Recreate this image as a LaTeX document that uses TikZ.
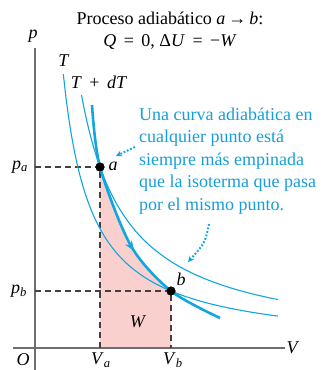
\documentclass[tikz,border=0pt]{standalone}
\usepackage{fontspec}
\setmainfont{Liberation Serif}
\usetikzlibrary{arrows.meta,decorations.markings}
\definecolor{cy}{RGB}{18,166,224}
\definecolor{cytext}{RGB}{22,158,216}
\definecolor{pinkfill}{RGB}{250,208,207}
\definecolor{axisgray}{RGB}{110,110,110}
\definecolor{dashgray}{RGB}{65,65,65}
\tikzset{
  axisline/.style={draw=axisgray, line width=1.5pt},
  guide/.style={draw=dashgray, line width=1.2pt, dash pattern=on 6pt off 4pt},
  isotherm/.style={draw=cy, line width=1.1pt},
  adiabat/.style={draw=cy, line width=2.6pt},
  dotarrow/.style={draw=cy, line width=2pt, dash pattern=on 1.8pt off 1.8pt, -{Stealth[length=6pt,width=6pt]}},
  dot/.style={circle, fill=black, inner sep=0pt, minimum size=9pt},
  lbl/.style={inner sep=0pt, font=\fontsize{18}{21}\selectfont},
}
\begin{document}
\begin{tikzpicture}[x=1pt,y=-1pt]
\useasboundingbox (0,0) rectangle (324,370);
% fill under adiabatic
\begin{scope}
  \clip (100,0) rectangle (171,348);
  \fill[pinkfill] plot[smooth] coordinates {(92,105) (100,167) (131,246) (171,291) (220,318)} -- (220,348) -- (92,348) -- cycle;
\end{scope}
% axes
\coordinate (ytop) at (35,48);
\coordinate (ybot) at (35,370);
\coordinate (xl) at (13,348);
\coordinate (xr) at (285,348);
\draw[axisline] (ytop) -- (ybot);
\draw[axisline] (xl) -- (xr);
% points
\node[dot] (a) at (100,167) {};
\node[dot] (b) at (171,291) {};
\coordinate (pa) at (35,167);
\coordinate (pb) at (35,291);
\coordinate (va) at (100,348);
\coordinate (vb) at (171,348);
\draw[guide] (pa) -- (a.center) -- (va);
\draw[guide] (pb) -- (b.center) -- (vb);
% isotherms
\draw[isotherm] plot[domain=28.3:243, samples=80] ({35+\x},{348-7752/\x});
\draw[isotherm] plot[domain=46.5:243, samples=80] ({35+\x},{348-11765/\x});
% adiabatic
\draw[adiabat, postaction={decorate}, decoration={markings, mark=at position 0.58 with {\arrow{Stealth[length=10pt,width=8pt]}}}]
  plot[smooth] coordinates {(92,105) (100,167) (131,246) (171,291) (220,318)};
\node[dot] at (a) {};
\node[dot] at (b) {};
% labels
\node[lbl] (plab) at (33,36) {\textit{p}};
\node[lbl] (vlab) at (293,348) {\textit{V}};
\node[lbl] (olab) at (23,360) {\textit{O}};
\node[lbl] (palab) at (20,167) {\textit{p}\textsubscript{\textit{a}}};
\node[lbl] (pblab) at (19,291) {\textit{p}\textsubscript{\textit{b}}};
\node[lbl] (valab) at (101,360) {\textit{V}\textsubscript{\textit{a}}};
\node[lbl] (vblab) at (173,360) {\textit{V}\textsubscript{\textit{b}}};
\node[lbl] (wlab) at (138,322) {\textit{W}};
\node[lbl] (alab) at (113,166) {\textit{a}};
\node[lbl] (blab) at (181,279) {\textit{b}};
\node[lbl] (tlab) at (64,61) {\textit{T}};
\node[lbl] (tdtlab) at (99,82) {\textit{T}\,\ +\ \,\textit{dT}};
\node[lbl] (title1) at (170,18) {Proceso adiabático \textit{a}\,→\,\textit{b}:};
\node[lbl] (title2) at (170,42) {\textit{Q}\ \,=\ \,0, Δ\textit{U}\ \,=\ \,−\textit{W}};
\node[lbl, text=cytext, anchor=west, align=left, font=\fontsize{18}{22.5}\selectfont] (note) at (139,161)
  {Una curva adiabática en\\cualquier punto está\\siempre más empinada\\que la isoterma que pasa\\por el mismo punto.};
% dotted arrows
\coordinate (d1s) at (135,147);
\coordinate (d1e) at (116,156);
\coordinate (d2s) at (209,224);
\coordinate (d2e) at (188,262);
\draw[dotarrow] (d1s) -- (d1e);
\draw[dotarrow] (d2s) .. controls (205,243) .. (d2e);
\end{tikzpicture}
\end{document}
